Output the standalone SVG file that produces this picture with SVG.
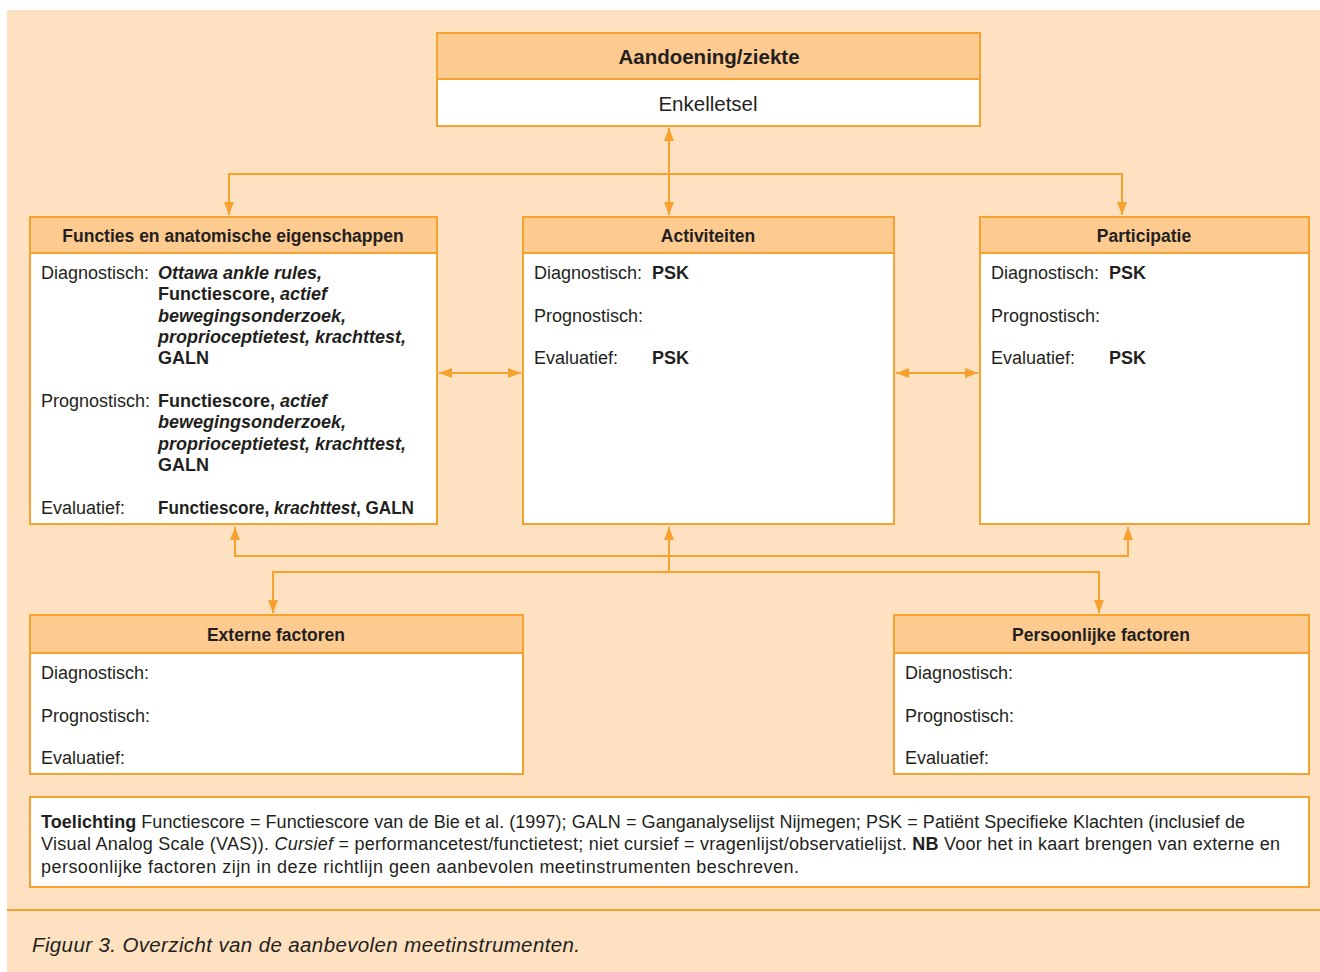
<svg xmlns="http://www.w3.org/2000/svg" width="1320" height="972" viewBox="0 0 1320 972">
<style>
text{font-family:"Liberation Sans",Arial,sans-serif;fill:#231f20}
.bg{fill:#fee1c0}
.box{fill:#ffffff;stroke:#f7a12f;stroke-width:2}
.hd{fill:#fdca90;stroke:#f7a12f;stroke-width:2}
.ht{font-size:17.5px;font-weight:bold;text-anchor:middle}
.t{font-size:18px}
.b{font-weight:bold}
.bi{font-weight:bold;font-style:italic}
.i{font-style:italic}
.con{fill:none;stroke:#f7a12f;stroke-width:2}
.nt{font-size:18px}
</style>
<defs>
<marker id="ah" viewBox="0 0 13 10" refX="13" refY="5" markerWidth="13" markerHeight="10" markerUnits="userSpaceOnUse" orient="auto-start-reverse">
<path d="M0,0 L13,5 L0,10 z" fill="#f7a12f"/>
</marker>
</defs>
<rect class="bg" x="7" y="10" width="1313" height="962"/>
<line x1="7" y1="910" x2="1320" y2="910" stroke="#f7a12f" stroke-width="2"/>

<g id="connectors">
<path class="con" d="M669,128 V215" marker-start="url(#ah)" marker-end="url(#ah)"/>
<path class="con" d="M229,215 V174 H1122 V215" marker-start="url(#ah)" marker-end="url(#ah)"/>
<path class="con" d="M439,373 H521" marker-start="url(#ah)" marker-end="url(#ah)"/>
<path class="con" d="M896,373 H978" marker-start="url(#ah)" marker-end="url(#ah)"/>
<path class="con" d="M235,527 V556 H1128 V527" marker-start="url(#ah)" marker-end="url(#ah)"/>
<path class="con" d="M669,527 V572" marker-start="url(#ah)"/>
<path class="con" d="M273,613 V572 H1099 V613" marker-start="url(#ah)" marker-end="url(#ah)"/>
</g>

<g id="aandoening">
<rect class="box" x="437" y="33" width="543" height="93"/>
<rect class="hd" x="437" y="33" width="543" height="46"/>
<text x="709" y="64" style="font-size:20.5px;font-weight:bold;text-anchor:middle">Aandoening/ziekte</text>
<text x="708" y="111" style="font-size:20.5px;text-anchor:middle">Enkelletsel</text>
</g>

<g id="functies">
<rect class="box" x="30" y="217" width="407" height="307"/>
<rect class="hd" x="30" y="217" width="407" height="36"/>
<text class="ht" x="233" y="242">Functies en anatomische eigenschappen</text>
<text class="t" x="41" y="279">Diagnostisch:</text>
<text class="t bi" x="158" y="279">Ottawa ankle rules,</text>
<text class="t" x="158" y="300"><tspan class="b">Functiescore, </tspan><tspan class="bi">actief</tspan></text>
<text class="t bi" x="158" y="322">bewegingsonderzoek,</text>
<text class="t bi" x="158" y="343">proprioceptietest, krachttest,</text>
<text class="t b" x="158" y="364">GALN</text>
<text class="t" x="41" y="407">Prognostisch:</text>
<text class="t" x="158" y="407"><tspan class="b">Functiescore, </tspan><tspan class="bi">actief</tspan></text>
<text class="t bi" x="158" y="428">bewegingsonderzoek,</text>
<text class="t bi" x="158" y="450">proprioceptietest, krachttest,</text>
<text class="t b" x="158" y="471">GALN</text>
<text class="t" x="41" y="514">Evaluatief:</text>
<text class="t" x="158" y="514" textLength="256" lengthAdjust="spacingAndGlyphs"><tspan class="b">Functiescore, </tspan><tspan class="bi">krachttest</tspan><tspan class="b">, GALN</tspan></text>
</g>

<g id="activiteiten">
<rect class="box" x="523" y="217" width="371" height="307"/>
<rect class="hd" x="523" y="217" width="371" height="36"/>
<text class="ht" x="708" y="242">Activiteiten</text>
<text class="t" x="534" y="279">Diagnostisch:</text>
<text class="t b" x="652" y="279">PSK</text>
<text class="t" x="534" y="322">Prognostisch:</text>
<text class="t" x="534" y="364">Evaluatief:</text>
<text class="t b" x="652" y="364">PSK</text>
</g>

<g id="participatie">
<rect class="box" x="980" y="217" width="329" height="307"/>
<rect class="hd" x="980" y="217" width="329" height="36"/>
<text class="ht" x="1144" y="242">Participatie</text>
<text class="t" x="991" y="279">Diagnostisch:</text>
<text class="t b" x="1109" y="279">PSK</text>
<text class="t" x="991" y="322">Prognostisch:</text>
<text class="t" x="991" y="364">Evaluatief:</text>
<text class="t b" x="1109" y="364">PSK</text>
</g>

<g id="externe">
<rect class="box" x="30" y="615" width="493" height="159"/>
<rect class="hd" x="30" y="615" width="493" height="38"/>
<text class="ht" x="276" y="641">Externe factoren</text>
<text class="t" x="41" y="679">Diagnostisch:</text>
<text class="t" x="41" y="722">Prognostisch:</text>
<text class="t" x="41" y="764">Evaluatief:</text>
</g>

<g id="persoonlijke">
<rect class="box" x="894" y="615" width="415" height="159"/>
<rect class="hd" x="894" y="615" width="415" height="38"/>
<text class="ht" x="1101" y="641">Persoonlijke factoren</text>
<text class="t" x="905" y="679">Diagnostisch:</text>
<text class="t" x="905" y="722">Prognostisch:</text>
<text class="t" x="905" y="764">Evaluatief:</text>
</g>

<g id="toelichting">
<rect class="box" x="30" y="797" width="1279" height="90"/>
<text class="nt" x="41" y="828" textLength="1204" lengthAdjust="spacing"><tspan class="b">Toelichting</tspan> Functiescore = Functiescore van de Bie et al. (1997); GALN = Ganganalyselijst Nijmegen; PSK = Patiënt Specifieke Klachten (inclusief de</text>
<text class="nt" x="41" y="850" textLength="1239" lengthAdjust="spacing">Visual Analog Scale (VAS)). <tspan class="i">Cursief</tspan> = performancetest/functietest; niet cursief = vragenlijst/observatielijst. <tspan class="b">NB</tspan> Voor het in kaart brengen van externe en</text>
<text class="nt" x="41" y="873" textLength="758" lengthAdjust="spacing">persoonlijke factoren zijn in deze richtlijn geen aanbevolen meetinstrumenten beschreven.</text>
</g>

<text x="32" y="952" textLength="548" lengthAdjust="spacing" style="font-size:20.5px;font-style:italic">Figuur 3. Overzicht van de aanbevolen meetinstrumenten.</text>
</svg>
